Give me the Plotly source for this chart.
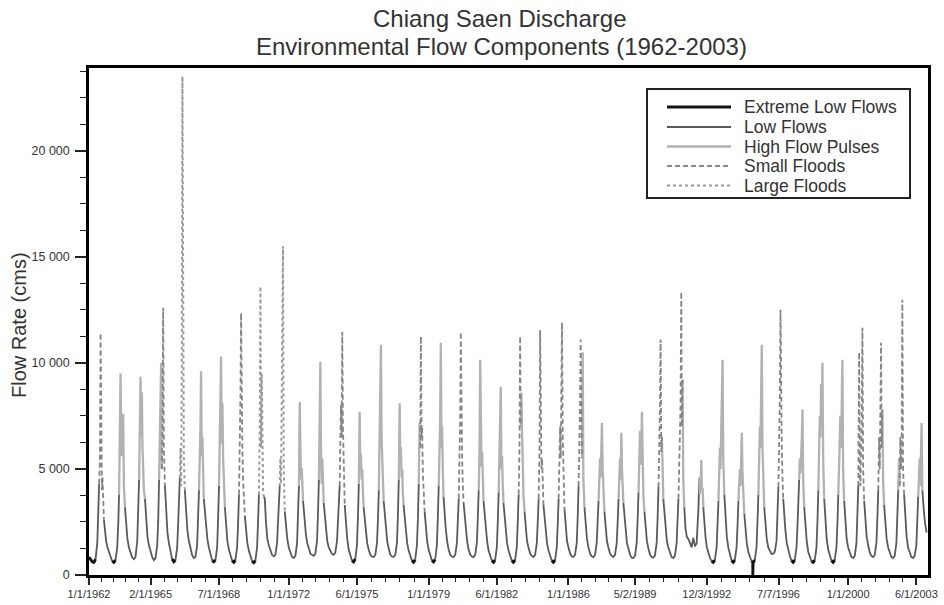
import datetime as dt
import plotly.graph_objects as go

# ---------------- data ----------------
# reading positions inside each year (month, day)
MARK_MONTH_DAY = [(1, 1), (2, 1), (3, 1), (4, 1), (5, 1), (6, 1), (6, 20), (7, 5), (7, 20),
                  (8, 1), (8, 12), (8, 25), (9, 5), (9, 18), (10, 1), (10, 20), (11, 10), (12, 5)]

YEARS = list(range(1962, 2004))

FLOW_1960S = [
    [850, 700, 620, 600, 750, 1500, 3000, 4300, 5500, 11400, 5200, 4000, 4600, 3300, 2600, 2100, 1600, 1300],
    [1100, 850, 650, 600, 700, 1300, 2400, 3800, 6200, 9500, 6800, 5600, 6500, 7600, 4200, 3200, 2300, 1700],
    [1300, 1000, 820, 750, 850, 1600, 3000, 4500, 7000, 9350, 6500, 8600, 6000, 4800, 4000, 3600, 2500, 1800],
    [1400, 1050, 850, 700, 800, 1400, 2600, 4500, 6500, 8000, 10000, 5000, 7000, 12600, 6000, 4200, 2800, 2000],
    [1500, 1100, 750, 620, 700, 1300, 2500, 3800, 4600, 6000, 4200, 10000, 23500, 9000, 5500, 4000, 2900, 2100],
    [1600, 1200, 950, 800, 850, 1400, 2600, 4000, 5200, 7000, 9600, 5600, 6500, 4800, 3600, 3100, 2300, 1700],
    [1300, 950, 700, 620, 700, 1300, 2800, 4200, 6000, 7500, 10300, 6200, 8100, 5500, 4200, 3200, 2300, 1600],
    [1200, 900, 680, 600, 700, 1300, 2500, 3800, 6000, 8500, 12350, 7000, 6000, 4500, 3800, 2800, 2100, 1500],
]
FLOW_1970S = [
    [1150, 850, 650, 580, 680, 1300, 2600, 3800, 7000, 13600, 6000, 9500, 5000, 4000, 3700, 3600, 2500, 1700],
    [1400, 1100, 950, 880, 950, 1500, 2600, 3400, 4200, 5500, 4300, 8000, 11000, 15500, 5000, 3000, 2300, 1700],
    [1300, 1000, 850, 800, 900, 1500, 2800, 4200, 8150, 6000, 4500, 5050, 4200, 3500, 3000, 2500, 1900, 1500],
    [1200, 1000, 950, 900, 1000, 1600, 3000, 4500, 7000, 10050, 6000, 4300, 5500, 4200, 3400, 2800, 2100, 1600],
    [1300, 1100, 1000, 950, 1050, 1600, 2600, 3400, 4200, 6000, 8000, 6500, 11450, 7000, 4500, 3300, 2400, 1700],
    [1200, 900, 680, 620, 750, 1400, 2800, 4300, 7700, 5200, 5700, 4500, 5000, 3900, 3200, 2700, 2000, 1500],
    [1200, 950, 870, 850, 950, 1500, 2700, 4000, 6000, 8000, 10850, 6400, 5500, 4200, 3500, 2800, 2100, 1600],
    [1250, 950, 870, 850, 950, 1500, 2900, 4500, 8100, 5500, 6050, 4600, 5000, 3800, 3300, 2700, 2000, 1500],
    [1150, 850, 680, 600, 720, 1400, 2700, 4300, 7200, 6000, 11250, 6500, 7000, 4800, 3800, 3000, 2200, 1600],
    [1200, 900, 700, 620, 720, 1400, 2800, 4200, 6000, 7500, 10950, 6000, 7000, 4800, 3700, 2900, 2200, 1600],
]
FLOW_1980S = [
    [1200, 950, 870, 850, 950, 1500, 2700, 3600, 5500, 7500, 11450, 6500, 5500, 4200, 3400, 2800, 2100, 1600],
    [1200, 950, 870, 840, 950, 1500, 2800, 4000, 6000, 10150, 5500, 5100, 5800, 4300, 3500, 2800, 2100, 1600],
    [1150, 900, 680, 600, 700, 1300, 2600, 3900, 5500, 6800, 8870, 5000, 5600, 4200, 3400, 2800, 2100, 1500],
    [1150, 880, 680, 600, 700, 1300, 2600, 3800, 6000, 11250, 7000, 8600, 6700, 5000, 3800, 3000, 2200, 1600],
    [1300, 1000, 900, 850, 950, 1500, 2600, 3600, 6000, 11550, 6500, 5000, 5500, 4000, 3300, 2700, 2000, 1500],
    [1150, 880, 680, 600, 700, 1300, 2500, 3600, 5000, 7000, 5500, 9000, 11900, 6500, 4200, 3100, 2200, 1600],
    [1300, 1000, 880, 850, 950, 1500, 2800, 4200, 6000, 8000, 11100, 6500, 5500, 10500, 4500, 3200, 2300, 1700],
    [1300, 1000, 880, 840, 950, 1500, 2600, 3500, 4500, 5500, 4600, 6000, 7170, 5000, 4000, 3000, 2200, 1600],
    [1300, 1000, 900, 850, 950, 1500, 2600, 3600, 4800, 5500, 4500, 6700, 5000, 4200, 3400, 2800, 2100, 1500],
    [1250, 950, 820, 800, 900, 1500, 2700, 3900, 5500, 6800, 5200, 6000, 7700, 5000, 3800, 3000, 2200, 1600],
]
FLOW_1990S = [
    [1250, 950, 850, 820, 920, 1500, 2800, 4150, 6000, 8000, 11100, 5800, 6500, 4500, 3600, 2900, 2200, 1600],
    [1300, 1000, 850, 800, 900, 1500, 2600, 3600, 5000, 6500, 8000, 13350, 7000, 9200, 4500, 3200, 2200, 1800],
    [1700, 1500, 1300, 1750, 1350, 1500, 2200, 3200, 4580, 3800, 4300, 5430, 4000, 4100, 3200, 2400, 1800, 1300],
    [1000, 800, 650, 600, 700, 1300, 2500, 3500, 4500, 6000, 5000, 7500, 8500, 10150, 5500, 3800, 2600, 1800],
    [1300, 950, 680, 600, 700, 1300, 2400, 3500, 4500, 5000, 4200, 5500, 6700, 4800, 3800, 2900, 2100, 1500],
    [1100, 850, 650, 600, 700, 1300, 2600, 3800, 5500, 7000, 6000, 8500, 10850, 6000, 4200, 3200, 2300, 1700],
    [1300, 1100, 1000, 1000, 1100, 1600, 2800, 4150, 6500, 8500, 12500, 7000, 6000, 4500, 3600, 2800, 2100, 1500],
    [1150, 880, 680, 600, 700, 1300, 2400, 3400, 4500, 5500, 4800, 5500, 6370, 7800, 4500, 3200, 2200, 1600],
    [1100, 850, 650, 600, 700, 1300, 2600, 4000, 5500, 7500, 6500, 9000, 7000, 10000, 5500, 3600, 2500, 1700],
    [1200, 900, 680, 600, 700, 1300, 2500, 3800, 5000, 6500, 7500, 6000, 8000, 10150, 5000, 3500, 2500, 1700],
]
FLOW_2000S = [
    [1300, 1000, 850, 800, 900, 1500, 2800, 4200, 10500, 5000, 4200, 6000, 7500, 11650, 5000, 3500, 2500, 1800],
    [1400, 1050, 900, 850, 950, 1500, 2800, 4000, 6500, 5000, 7500, 10950, 6000, 7800, 4500, 3300, 2400, 1700],
    [1300, 1000, 850, 800, 900, 1500, 2700, 4000, 5500, 4200, 6500, 5000, 6000, 12980, 5000, 3800, 2600, 1800],
    [1300, 1000, 850, 800, 900, 1400, 2600, 3700, 4500, 5500, 4200, 6000, 7170, 4000, 3400, 2900, 2400, 2000],
]

# flow component of each reading: X extreme low, L low, H high flow pulse, S small flood, F large flood
CLASS_1960S = [
    "XXXXLLLSSSSSSSLLLL", "LLXXLLLHHHHHHHHLLL", "LLLLLLLHHHHHHHHLLL", "LLLLLLLHHHHSSSSLLL",
    "LLXXLLLLFFFFFFFLLL", "LLLLLLLHHHHHHHLLLL", "LLXXLLLHHHHHHHHLLL", "LLXXLLLSSSSSSSSLLL",
]
CLASS_1970S = [
    "LLXXLLLFFFFFFFLLLL", "LLLLLLLLFFFFFFFLLL", "LLLLLLLHHHHHHLLLLL", "LLLLLLLHHHHHHHLLLL",
    "LLLLLLLLSSSSSSSLLL", "LLXXLLLHHHHHHHLLLL", "LLLLLLLHHHHHHHLLLL", "LLLLLLLHHHHHHHLLLL",
    "LLXXLLLHHSSSSSSLLL", "LLXXLLLHHHHHHHLLLL",
]
CLASS_1980S = [
    "LLLLLLLSSSSSSSLLLL", "LLLLLLLHHHHHHHLLLL", "LLXXLLLHHHHHHHLLLL", "LLXXLLLSSSHHHHHLLL",
    "LLLLLLLSSSSSSSLLLL", "LLXXLLLSSSSSSSSLLL", "LLLLLLLSSSSSHHHLLL", "LLLLLLLHHHHHHHHLLL",
    "LLLLLLLHHHHHHHLLLL", "LLLLLLLHHHHHHHHLLL",
]
CLASS_1990S = [
    "LLLLLLLSSSSSHHLLLL", "LLLLLLLSSSSSSHHLLL", "LLLLLLLLHHHHHHLLLL", "LLXXLLLHHHHHHHHLLL",
    "LLXXLLLHHHHHHHHLLL", "LLXXLLLHHHHHHHHLLL", "LLLLLLLSSSSSSSLLLL", "LLXXLLLLHHHHHHHLLL",
    "LLXXLLLHHHHHHHHLLL", "LLXXLLLHHHHHHHHLLL",
]
CLASS_2000S = ["LLLLLLLSSSSSSSSLLL", "LLLLLLLSSSSSSHHLLL", "LLLLLLLHHSSSSSSLLL", "LLLLLLLHHHHHHLLLLL"]

# single-day readings outside the regular positions (1995 gauge drop)
EXTRA_DATES = ["1995-03-24", "1995-03-25", "1995-03-26"]
EXTRA_VALUES = [600, 0, 600]
EXTRA_CLASS = ["X", "X", "X"]

COMPONENTS = ["X", "L", "H", "S", "F"]
COMPONENT_NAMES = ["Extreme Low Flows", "Low Flows", "High Flow Pulses", "Small Floods", "Large Floods"]

X_TICK_DATES = ["1962-01-01", "1965-02-01", "1968-07-01", "1972-01-01", "1975-06-01", "1979-01-01",
                "1982-06-01", "1986-01-01", "1989-05-02", "1992-12-03", "1996-07-07", "2000-01-01", "2003-06-01"]
X_TICK_TEXT = ["1/1/1962", "2/1/1965", "7/1/1968", "1/1/1972", "6/1/1975", "1/1/1979", "6/1/1982",
               "1/1/1986", "5/2/1989", "12/3/1992", "7/7/1996", "1/1/2000", "6/1/2003"]
Y_TICK_VALUES = [0, 5000, 10000, 15000, 20000]
Y_TICK_TEXT = ["0", "5 000", "10 000", "15 000", "20 000"]

TITLE_LINES = ["Chiang Saen Discharge", "Environmental Flow Components (1962-2003)"]
Y_TITLE = "Flow Rate (cms)"

# ---------------- assemble the series ----------------
flows = FLOW_1960S + FLOW_1970S + FLOW_1980S + FLOW_1990S + FLOW_2000S
classes = CLASS_1960S + CLASS_1970S + CLASS_1980S + CLASS_1990S + CLASS_2000S
assert len(flows) == len(YEARS) == len(classes)

records = []
for yr, row, cl in zip(YEARS, flows, classes):
    assert len(row) == len(MARK_MONTH_DAY) == len(cl), yr
    for (m, d), v, c in zip(MARK_MONTH_DAY, row, cl):
        records.append((f"{yr}-{m:02d}-{d:02d}", v, c))
for d, v, c in zip(EXTRA_DATES, EXTRA_VALUES, EXTRA_CLASS):
    records.append((d, v, c))
records.sort(key=lambda r: r[0])

dates = [r[0] for r in records]
vals = [r[1] for r in records]
cls = [r[2] for r in records]

series = {k: ([], []) for k in COMPONENTS}
i, n = 0, len(records)
while i < n:
    c = cls[i]
    j = i
    while j + 1 < n and cls[j + 1] == c:
        j += 1
    end = min(j + 1, n - 1)
    xs, ys = series[c]
    xs.extend(dates[i:end + 1] + [None])
    ys.extend(vals[i:end + 1] + [None])
    i = j + 1

STYLE = {
    "X": dict(color="#111111", width=2.8, dash="solid"),
    "L": dict(color="#5a5a5a", width=1.8, dash="solid"),
    "H": dict(color="#b2b2b2", width=2.3, dash="solid"),
    "S": dict(color="#858585", width=1.8, dash="5px,3px"),
    "F": dict(color="#9a9a9a", width=2.0, dash="dot"),
}
DRAW_ORDER = ["L", "H", "S", "F", "X"]

fig = go.Figure()
for k in DRAW_ORDER:
    xs, ys = series[k]
    fig.add_trace(go.Scatter(
        x=xs, y=ys, mode="lines", name=COMPONENT_NAMES[COMPONENTS.index(k)],
        line=STYLE[k], connectgaps=False, hoverinfo="skip", showlegend=False,
    ))

# minor x ticks: four between each pair of labelled ticks
minor_x = []
for a, b in zip(X_TICK_DATES[:-1], X_TICK_DATES[1:]):
    da = dt.date.fromisoformat(a)
    db = dt.date.fromisoformat(b)
    step = (db - da) / 5
    for s in range(1, 5):
        minor_x.append((da + step * s).isoformat())

FONT = "Liberation Sans, Arial, sans-serif"
W, H = 944, 605
L_M, R_M, T_M, B_M = 89, 16, 68, 30
PW, PH = W - L_M - R_M, H - T_M - B_M


def px_x(x):
    return (x - L_M) / PW


def px_y(y):
    return (H - B_M - y) / PH


shapes = [dict(type="rect", xref="paper", yref="paper",
               x0=px_x(647), x1=px_x(910), y0=px_y(198), y1=px_y(89),
               line=dict(color="#222", width=2), fillcolor="white", layer="above")]
annotations = []
# legend keys (drawn as a boxed key, like the original)
LEG_ROW_Y = [107, 127, 146.5, 166, 185.5]
for k, ry in zip(COMPONENTS, LEG_ROW_Y):
    st = STYLE[k]
    shapes.append(dict(type="line", xref="paper", yref="paper",
                       x0=px_x(667), x1=px_x(731), y0=px_y(ry), y1=px_y(ry),
                       line=dict(color=st["color"], width=st["width"], dash=st["dash"]),
                       layer="above"))
    annotations.append(dict(text=COMPONENT_NAMES[COMPONENTS.index(k)], xref="paper", yref="paper",
                            x=px_x(742), y=px_y(ry), xanchor="left", yanchor="middle",
                            showarrow=False, font=dict(family=FONT, size=17.5, color="#333")))

annotations.append(dict(text=TITLE_LINES[0], xref="paper", yref="paper",
                        x=px_x(500), y=px_y(19), xanchor="center", yanchor="middle",
                        showarrow=False, font=dict(family=FONT, size=24, color="#333")))
annotations.append(dict(text=TITLE_LINES[1], xref="paper", yref="paper",
                        x=px_x(501), y=px_y(46), xanchor="center", yanchor="middle",
                        showarrow=False, font=dict(family=FONT, size=24, color="#333")))
annotations.append(dict(text=Y_TITLE, xref="paper", yref="paper",
                        x=px_x(19), y=px_y(325), xanchor="center", yanchor="middle",
                        textangle=-90, showarrow=False,
                        font=dict(family=FONT, size=20, color="#333")))

fig.update_layout(
    width=W, height=H,
    margin=dict(l=L_M, r=R_M, t=T_M, b=B_M, autoexpand=False),
    paper_bgcolor="white", plot_bgcolor="white",
    font=dict(family=FONT, color="#333333", size=11),
    showlegend=False,
    xaxis=dict(type="date", range=["1962-01-01", "2003-12-31"], automargin=False,
               showgrid=False, zeroline=False,
               showline=True, linecolor="black", linewidth=2.5, mirror=True,
               tickmode="array", tickvals=X_TICK_DATES, ticktext=X_TICK_TEXT,
               ticks="outside", ticklen=7, tickwidth=1.5, tickcolor="#222",
               tickfont=dict(family=FONT, size=11, color="#333"),
               minor=dict(tickmode="array", tickvals=minor_x, ticks="outside",
                          ticklen=4, tickwidth=1.2, tickcolor="#222")),
    yaxis=dict(range=[0, 23900], automargin=False, showgrid=False, zeroline=False,
               showline=True, linecolor="black", linewidth=2.5, mirror=True,
               tickmode="array", tickvals=Y_TICK_VALUES, ticktext=Y_TICK_TEXT,
               ticks="outside", ticklen=11, tickwidth=1.5, tickcolor="#222",
               ticklabelstandoff=3,
               tickfont=dict(family=FONT, size=12.5, color="#333"),
               minor=dict(dtick=1250, tick0=0, ticks="outside", ticklen=6,
                          tickwidth=1.2, tickcolor="#222")),
    shapes=shapes,
    annotations=annotations,
)

fig.write_html("out.html")
